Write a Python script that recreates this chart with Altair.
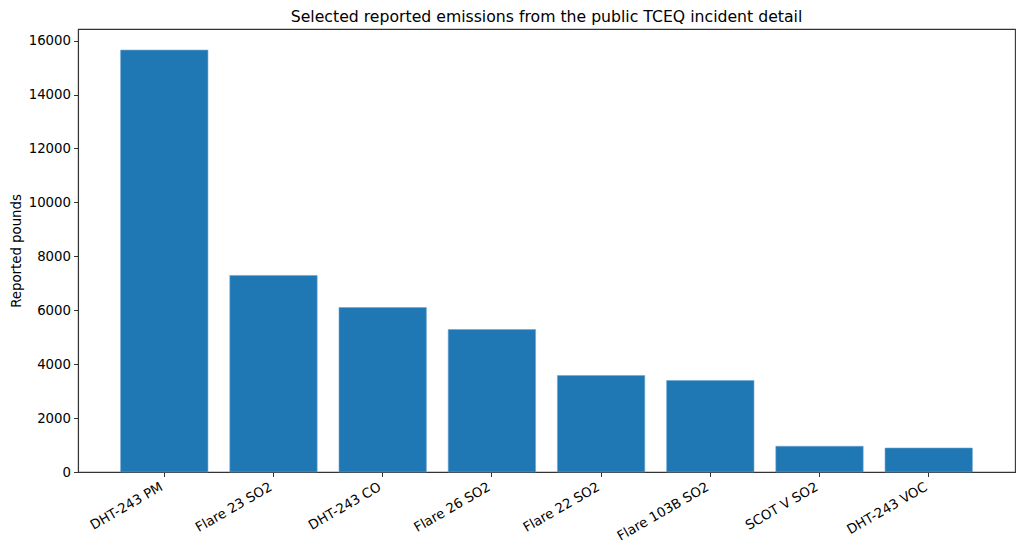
import altair as alt
import pandas as pd

sources = ["DHT-243 PM", "Flare 23 SO2", "DHT-243 CO", "Flare 26 SO2",
           "Flare 22 SO2", "Flare 103B SO2", "SCOT V SO2", "DHT-243 VOC"]
pounds = [15650, 7290, 6100, 5285, 3580, 3395, 955, 890]

df = pd.DataFrame({"source": sources, "pounds": pounds})
font = "DejaVu Sans"

bars = alt.Chart(df).mark_bar(color="#1f77b4", stroke="#6fa6d2", strokeWidth=0.6).encode(
    x=alt.X("source:N", sort=sources, title=None,
            scale=alt.Scale(paddingInner=0.2, paddingOuter=0.39),
            axis=alt.Axis(labelAngle=-30, labelAlign="right", labelBaseline="top",
                          labelFont=font, labelFontSize=13.3, labelColor="black",
                          labelPadding=3, labelOffset=-6, tickSize=4.5, tickColor="#333",
                          domainColor="#333", domainWidth=1.1)),
    y=alt.Y("pounds:Q", title="Reported pounds",
            scale=alt.Scale(domain=[0, 16432], nice=False),
            axis=alt.Axis(values=list(range(0, 16001, 2000)), format="d", grid=False,
                          labelFont=font, labelFontSize=13.3, labelColor="black",
                          labelPadding=3, tickSize=4.5, tickColor="#333",
                          domainColor="#333", domainWidth=1.1,
                          titleFont=font, titleFontSize=13.3, titleFontWeight="normal",
                          titleColor="black", titlePadding=5)),
)

chart = bars.properties(
    width=937, height=443,
    title=alt.TitleParams("Selected reported emissions from the public TCEQ incident detail",
                          font=font, fontSize=15.7, fontWeight="normal", color="black",
                          offset=3),
    autosize=alt.AutoSizeParams(type="none"),
    padding={"left": 70, "top": 21, "right": 1, "bottom": 73},
).configure_view(stroke="#333", strokeWidth=1.1)

chart.save("out.html", embed_options={"renderer": "svg", "actions": False})
